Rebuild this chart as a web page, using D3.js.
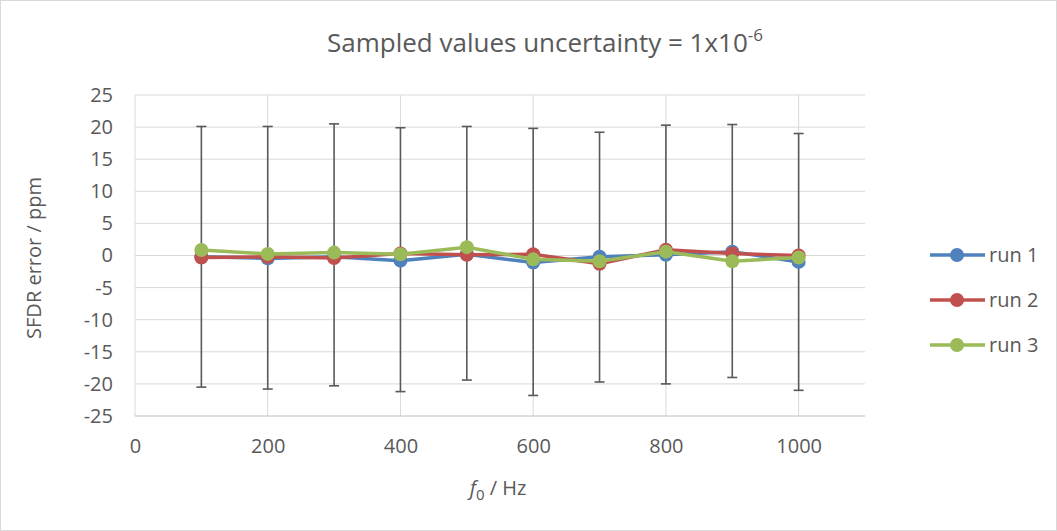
<!DOCTYPE html>
<html><head><meta charset="utf-8">
<script src="https://cdn.jsdelivr.net/npm/d3@7"></script>
<style>body{margin:0;background:#fff}svg{display:block}text{font-family:"Open Sans",sans-serif;fill:#595959}</style>
</head><body><svg id="c" width="1057" height="531"></svg>
<script>
const freqs = [100,200,300,400,500,600,700,800,900,1000];
const run1 = [-0.2,-0.45,-0.2,-0.8,0.2,-1.1,-0.2,0.1,0.6,-1.0];
const run2 = [-0.3,-0.2,-0.4,0.3,0.1,0.2,-1.3,0.9,0.3,0.0];
const run3 = [0.85,0.25,0.45,0.2,1.3,-0.6,-0.9,0.6,-0.9,-0.3];
const errTop = [20.1,20.1,20.5,19.9,20.1,19.8,19.2,20.3,20.4,19.0];
const errBottom = [-20.5,-20.8,-20.3,-21.2,-19.4,-21.8,-19.7,-20.0,-19.0,-21.0];
const xTicks = [0,200,400,600,800,1000];
const yTicks = [-25,-20,-15,-10,-5,0,5,10,15,20,25];
const seriesNames = ["run 1","run 2","run 3"];
const colors = ["#4F81BD","#C0504D","#9BBB59"];

const svg = d3.select("#c");
svg.append("rect").attr("x",0.5).attr("y",0.5).attr("width",1056).attr("height",530).attr("fill","#fff").attr("stroke","#D9D9D9");
const L=135,R=865,T=95,B=416;
const x = d3.scaleLinear().domain([0,1100]).range([L,R]);
const y = d3.scaleLinear().domain([-25,25]).range([B,T]);
const g = svg.append("g");
g.selectAll(".hg").data(yTicks.filter(d=>d>-25)).join("line").attr("x1",L).attr("x2",R).attr("y1",d=>y(d)).attr("y2",d=>y(d)).attr("stroke","#D9D9D9").attr("stroke-width",1);
g.selectAll(".vg").data(xTicks.filter(d=>d>0)).join("line").attr("x1",d=>x(d)).attr("x2",d=>x(d)).attr("y1",T).attr("y2",B).attr("stroke","#D9D9D9").attr("stroke-width",1);
g.append("line").attr("x1",L).attr("x2",L).attr("y1",T).attr("y2",B).attr("stroke","#D9D9D9");
g.append("line").attr("x1",L).attr("x2",R).attr("y1",B).attr("y2",B).attr("stroke","#BFBFBF");
const fmt = d => String(d);
const yAxis = d3.axisLeft(y).tickValues(yTicks).tickFormat(fmt).tickSize(0).tickPadding(22);
const ya = svg.append("g").attr("transform",`translate(${L},0)`).call(yAxis);
ya.select(".domain").remove();
ya.selectAll("text").style("font-size","20px").attr("fill","#595959");
const xAxis = d3.axisBottom(x).tickValues(xTicks).tickFormat(fmt).tickSize(0).tickPadding(23);
const xa = svg.append("g").attr("transform",`translate(0,${B})`).call(xAxis);
xa.select(".domain").remove();
xa.selectAll("text").style("font-size","20px").attr("fill","#595959");
ya.attr("font-family",null); xa.attr("font-family",null);
const eb = svg.append("g").attr("stroke","#595959").attr("stroke-width",1.6);
freqs.forEach((f,i)=>{
  eb.append("line").attr("x1",x(f)).attr("x2",x(f)).attr("y1",y(errTop[i])).attr("y2",y(errBottom[i]));
  eb.append("line").attr("x1",x(f)-5).attr("x2",x(f)+5).attr("y1",y(errTop[i])).attr("y2",y(errTop[i]));
  eb.append("line").attr("x1",x(f)-5).attr("x2",x(f)+5).attr("y1",y(errBottom[i])).attr("y2",y(errBottom[i]));
});
const all = [run1,run2,run3];
const line = d3.line().x((d,i)=>x(freqs[i])).y(d=>y(d));
all.forEach((s,k)=>{
  svg.append("path").datum(s).attr("d",line).attr("fill","none").attr("stroke",colors[k]).attr("stroke-width",3.5).attr("stroke-linejoin","round");
  svg.selectAll(".m"+k).data(s).join("circle").attr("cx",(d,i)=>x(freqs[i])).attr("cy",d=>y(d)).attr("r",7).attr("fill",colors[k]);
});
const t = svg.append("text").attr("x",545).attr("y",52).attr("text-anchor","middle").style("font-size","26px");
t.append("tspan").text("Sampled values uncertainty = 1x10");
t.append("tspan").attr("dy",-11).style("font-size","17px").text("-6");
svg.append("text").attr("transform","translate(41,258) rotate(-90)").attr("text-anchor","middle").style("font-size","20px").text("SFDR error / ppm");
const xt = svg.append("text").attr("x",498).attr("y",495).attr("text-anchor","middle").style("font-size","20px");
xt.append("tspan").style("font-style","italic").text("f");
xt.append("tspan").attr("dy",5).style("font-size","15px").text("0");
xt.append("tspan").attr("dy",-5).text(" / Hz");
seriesNames.forEach((n,k)=>{
  const ly = 255 + k*45;
  svg.append("line").attr("x1",930).attr("x2",985).attr("y1",ly).attr("y2",ly).attr("stroke",colors[k]).attr("stroke-width",3.5);
  svg.append("circle").attr("cx",957).attr("cy",ly).attr("r",7).attr("fill",colors[k]);
  svg.append("text").attr("x",989).attr("y",ly+7).style("font-size","20px").text(n);
});
</script></body></html>
